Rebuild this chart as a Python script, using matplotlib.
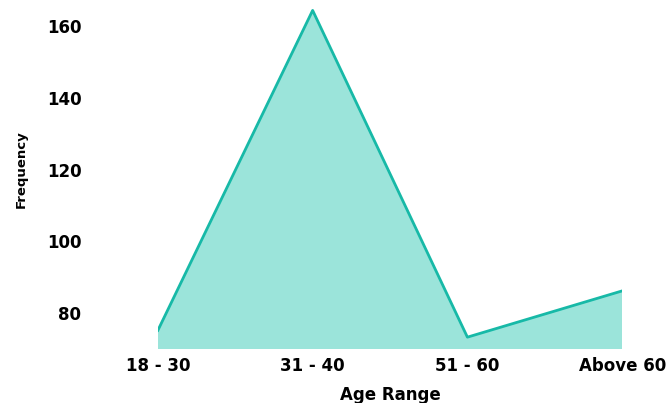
import matplotlib
matplotlib.use('Agg')
import matplotlib.pyplot as plt

plt.rcParams['font.family'] = ['DejaVu Sans']

# Data
age_ranges = ['18 - 30', '31 - 40', '51 - 60', 'Above 60']
frequency = [75.2, 164.4, 73.3, 86.2]

fig = plt.figure(figsize=(6.69, 4.03), dpi=100)
ax = fig.add_axes([0.236, 0.134, 0.694, 0.866])

x = list(range(len(age_ranges)))
ax.fill_between(x, frequency, 0, color='#9be4da', linewidth=0)
ax.plot(x, frequency, color='#17b9a7', linewidth=2)

ax.set_xlim(0, len(age_ranges) - 1)
ax.set_ylim(70, 167.3)
ax.set_xticks(x)
ax.set_xticklabels(age_ranges, fontsize=12, fontweight='bold')
ax.set_yticks([80, 100, 120, 140, 160])
ax.set_yticklabels(['80', '100', '120', '140', '160'], fontsize=12, fontweight='bold')
ax.tick_params(axis='both', length=0)
ax.tick_params(axis='y', pad=55)
ax.tick_params(axis='x', pad=6)
for s in ax.spines.values():
    s.set_visible(False)

ax.set_xlabel('Age Range', fontsize=12, fontweight='bold', labelpad=8)
ax.set_ylabel('Frequency', fontsize=9.5, fontweight='bold')
ax.yaxis.set_label_coords(-0.28, 0.516)

fig.savefig('out.png', dpi=100)
